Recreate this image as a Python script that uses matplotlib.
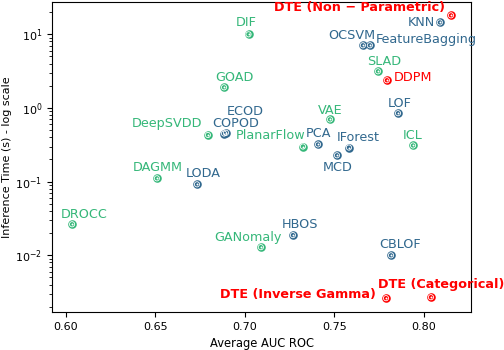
import matplotlib
matplotlib.use("Agg")
import matplotlib.pyplot as plt

names = ["DTE (Non − Parametric)", "KNN", "OCSVM", "FeatureBagging", "SLAD", "DDPM",
         "LOF", "ICL", "VAE", "PCA", "PlanarFlow", "IForest", "MCD", "DIF", "GOAD",
         "DeepSVDD", "ECOD", "COPOD", "DAGMM", "LODA", "DROCC", "GANomaly", "HBOS",
         "CBLOF", "DTE (Inverse Gamma)", "DTE (Categorical)"]
auc = [0.8151, 0.8089, 0.7659, 0.7698, 0.7743, 0.7793,
       0.7855, 0.7939, 0.7475, 0.7408, 0.7324, 0.7581, 0.7514, 0.702, 0.6883,
       0.6793, 0.6894, 0.6883, 0.6508, 0.6732, 0.6034, 0.7089, 0.7268,
       0.7816, 0.7788, 0.8039]
time = [18.1, 14.5, 7.1, 7.1, 3.15, 2.38,
        0.85, 0.31, 0.70, 0.32, 0.30, 0.29, 0.228, 10.0, 1.91,
        0.43, 0.46, 0.45, 0.111, 0.092, 0.0264, 0.0129, 0.0188,
        0.0100, 0.00262, 0.0027]
group = ["dte", "classic", "classic", "classic", "deep", "dte",
         "classic", "deep", "deep", "classic", "deep", "classic", "classic", "deep", "deep",
         "deep", "classic", "classic", "deep", "classic", "deep", "deep", "classic",
         "classic", "dte", "dte"]

colors = {"dte": "#ff0000", "classic": "#31688e", "deep": "#35b779"}

# label placement: (dx, dy) in pixels, horizontal alignment
place = {
    "DTE (Non − Parametric)": (-6, 8, "right"),
    "KNN": (-5, 0, "right"),
    "OCSVM": (12, 10, "right"),
    "FeatureBagging": (6, 6, "left"),
    "SLAD": (6, 10, "center"),
    "DDPM": (7, 3, "left"),
    "LOF": (2, 10, "center"),
    "ICL": (0, 10, "center"),
    "VAE": (0, 9, "center"),
    "PCA": (1, 11, "center"),
    "PlanarFlow": (2, 11, "right"),
    "IForest": (9, 10, "center"),
    "MCD": (1, -12, "center"),
    "DIF": (-2, 12, "center"),
    "GOAD": (10, 10, "center"),
    "DeepSVDD": (-6, 11, "right"),
    "ECOD": (19, 21, "center"),
    "COPOD": (12, 10, "center"),
    "DAGMM": (1, 11, "center"),
    "LODA": (6, 11, "center"),
    "DROCC": (12, 10, "center"),
    "GANomaly": (-13, 10, "center"),
    "HBOS": (7, 11, "center"),
    "CBLOF": (9, 11, "center"),
    "DTE (Inverse Gamma)": (-10, 4, "right"),
    "DTE (Categorical)": (10, 13, "center"),
}

fig = plt.figure(figsize=(5.04, 3.5), dpi=100)
ax = fig.add_axes([52/504, 1 - 312/350, (471-52)/504, (312-1.5)/350])

for n, x, y, g in zip(names, auc, time, group):
    c = colors[g]
    ax.scatter([x], [y], s=38, color=c, zorder=3, linewidths=0)
    ax.scatter([x], [y], s=14, facecolors="none", edgecolors="white", linewidths=0.6, zorder=4)
    ax.scatter([x], [y], s=2, color="white", linewidths=0, zorder=5)
    dx, dy, ha = place[n]
    bold = g == "dte" and n != "DDPM"
    ax.annotate(n, (x, y), xytext=(dx, dy), textcoords="offset pixels",
                ha=ha, va="center", color=c, fontsize=9.2,
                fontweight="bold" if bold else "normal", annotation_clip=False)

ax.set_yscale("log")
ax.set_xlim(0.5922, 0.8263)
ax.set_ylim(0.0017, 27.9)
ax.set_xticks([0.60, 0.65, 0.70, 0.75, 0.80])
ax.set_xticklabels(["0.60", "0.65", "0.70", "0.75", "0.80"])
ax.tick_params(labelsize=8)
ax.set_xlabel("Average AUC ROC", fontsize=8.3)
ax.set_ylabel("Inference Time (s) - log scale", fontsize=8, labelpad=2)

fig.savefig("out.png", dpi=100)
